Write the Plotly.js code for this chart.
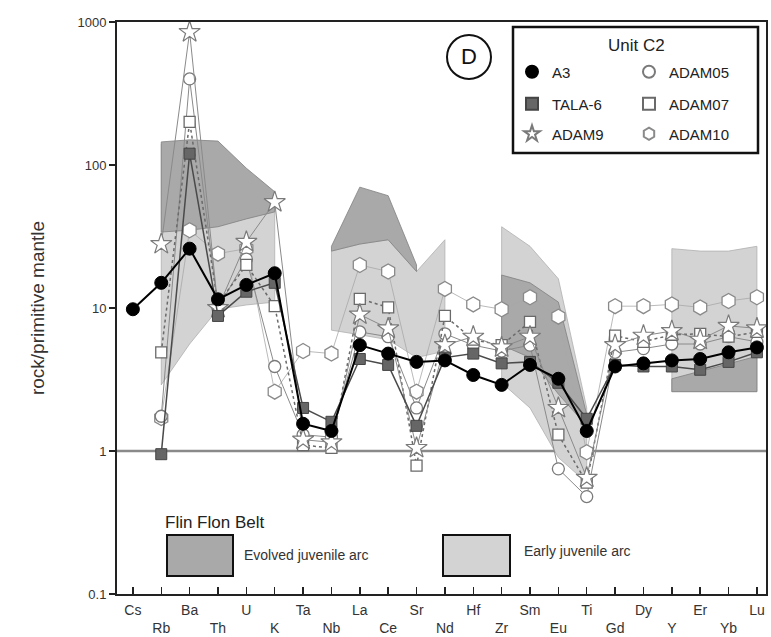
<!DOCTYPE html>
<html>
<head>
<meta charset="utf-8">
<script src="https://cdn.plot.ly/plotly-3.0.1.min.js"></script>
<style>html,body{margin:0;padding:0;background:#fff;}#chart{width:771px;height:637px;}</style>
</head>
<body>
<div id="chart"></div>
<script>
// ---- Data ----
const elements = ['Cs','Rb','Ba','Th','U','K','Ta','Nb','La','Ce','Sr','Nd','Hf','Zr','Sm','Eu','Ti','Gd','Dy','Y','Er','Yb','Lu'];

const A3     = [9.8, 15, 26, 11.5, 14.5, 17.5, 1.55, 1.38, 5.5, 4.8, 4.2, 4.3, 3.4, 2.9, 4.0, 3.2, 1.38, 3.9, 4.1, 4.3, 4.4, 4.9, 5.3];
const TALA6  = [null, 0.95, 120, 8.8, 13, 15, 2.0, 1.6, 4.4, 4.0, 1.5, 4.5, 4.8, 4.1, 4.2, 3.0, 1.68, 4.0, 3.9, 3.9, 3.7, 4.2, 4.9];
const ADAM9  = [null, 28, 850, 10, 29, 55, 1.2, 1.15, 9, 7.2, 1.05, 5.5, 6.3, 5.3, 6.3, 2.0, 0.65, 5.5, 6.4, 6.9, 6.0, 7.5, 7.2];
const ADAM05 = [null, 1.75, 400, 10, 22, 3.9, 1.3, 1.25, 6.8, 6.3, 2.0, 6.6, 5.5, 5.0, 5.5, 0.75, 0.48, 4.9, 5.2, 5.6, 5.6, 6.3, 5.8];
const ADAM07 = [null, 4.9, 200, 10.7, 20, 10.3, 1.1, 1.05, 11.6, 10.1, 0.79, 8.8, 6.0, 5.5, 8.0, 1.3, 0.6, 6.4, 5.8, 6.5, 6.6, 6.3, 6.8];
const ADAM10 = [null, 1.7, 35, 24, 26, 2.6, 5.0, 4.8, 20, 18, 2.6, 13.6, 10.6, 9.8, 11.9, 8.7, 0.98, 10.3, 10.3, 10.6, 10.1, 11.2, 11.9];

// Flin Flon Belt fields (upper / lower envelopes per element)
const evolvedEls1 = ['Rb','Ba','Th','U','K'];
const evolvedTop1 = [145, 150, 147, 95, 65];
const evolvedBot1 = [34, 35, 37, 42, 47];
const earlyEls1   = ['Rb','Ba','Th','U','K'];
const earlyTop1   = [140, 140, 140, 90, 62];
const earlyBot1   = [2.9, 5.6, 9.8, 10.5, 11];

const evolvedEls2 = ['Nb','La','Ce','Sr'];
const evolvedTop2 = [27, 70, 61, 20];
const evolvedBot2 = [25, 28, 30, 18];
const earlyEls2   = ['Nb','La','Ce','Sr','Nd'];
const earlyTop2   = [25, 28, 30, 18, 30];
const earlyBot2   = [7.0, 6.5, 6.0, 4.5, 5.0];

const evolvedEls3 = ['Zr','Sm','Eu','Ti'];
const evolvedTop3 = [17, 15, 11, 1.8];
const evolvedBot3 = [5.5, 4.5, 2.5, 1.5];
const earlyEls3   = ['Zr','Sm','Eu','Ti'];
const earlyTop3   = [37, 27, 16, 2.0];
const earlyBot3   = [3.0, 2.0, 0.9, 0.6];

const evolvedEls4 = ['Y','Er','Yb','Lu'];
const evolvedTop4 = [3.2, 3.6, 4.1, 4.6];
const evolvedBot4 = [2.6, 2.6, 2.6, 2.6];
const earlyEls4   = ['Y','Er','Yb','Lu'];
const earlyTop4   = [26, 25, 25, 27];
const earlyBot4   = [2.6, 2.6, 2.6, 2.6];

const yRange = [0.1, 1000];
const yTickVals = [0.1, 1, 10, 100, 1000];
const yTickText = ['0.1', '1', '10', '100', '1000'];
const refLevel = 1;

// ---- Styling ----
const EVOLVED = '#a9a9a9';
const EARLY = '#d3d3d3';
const FONT = 'Arial, "Liberation Sans", sans-serif';

function field(els, top, bot, fill, edge) {
  return {
    x: els.concat(els.slice().reverse(), [els[0]]),
    y: top.concat(bot.slice().reverse(), [top[0]]),
    type: 'scatter', mode: 'lines', fill: 'toself', fillcolor: fill,
    line: {color: edge, width: 0.8}, hoverinfo: 'skip', showlegend: false
  };
}

const traces = [
  field(earlyEls1, earlyTop1, earlyBot1, EARLY, '#b0b0b0'),
  field(earlyEls2, earlyTop2, earlyBot2, EARLY, '#b0b0b0'),
  field(earlyEls3, earlyTop3, earlyBot3, EARLY, '#b0b0b0'),
  field(earlyEls4, earlyTop4, earlyBot4, EARLY, '#b0b0b0'),
  field(evolvedEls1, evolvedTop1, evolvedBot1, EVOLVED, '#808080'),
  field(evolvedEls2, evolvedTop2, evolvedBot2, EVOLVED, '#808080'),
  field(evolvedEls3, evolvedTop3, evolvedBot3, EVOLVED, '#808080'),
  field(evolvedEls4, evolvedTop4, evolvedBot4, EVOLVED, '#808080'),
];

function series(name, vals, marker, line, legend, rank) {
  traces.push({
    x: elements, y: vals, type: 'scatter', mode: 'lines', connectgaps: false,
    line: line, showlegend: false, hoverinfo: 'skip'
  });
  traces.push({
    x: elements, y: vals, name: name, type: 'scatter', mode: 'markers',
    marker: marker, legend: legend, legendrank: rank
  });
}

series('ADAM10', ADAM10, {symbol: 'hexagon', size: 15, color: '#ffffff', line: {color: '#8a8a8a', width: 1.3}}, {color: '#a8a8a8', width: 0.8}, 'legend3', 2);
series('ADAM05', ADAM05, {symbol: 'circle', size: 12, color: '#ffffff', line: {color: '#7a7a7a', width: 1.3}}, {color: '#8a8a8a', width: 1}, 'legend', 2);
series('ADAM07', ADAM07, {symbol: 'square', size: 11, color: '#ffffff', line: {color: '#6a6a6a', width: 1.3}}, {color: '#6a6a6a', width: 1.5, dash: 'dot'}, 'legend2', 2);
series('ADAM9', ADAM9, {symbol: 'star', size: 16, color: '#ffffff', line: {color: '#7a7a7a', width: 1.2}}, {color: '#8a8a8a', width: 1}, 'legend3', 1);
series('TALA-6', TALA6, {symbol: 'square', size: 11, color: '#666666', line: {color: '#444444', width: 1}}, {color: '#4a4a4a', width: 1.5}, 'legend2', 1);
series('A3', A3, {symbol: 'circle', size: 13, color: '#000000', line: {color: '#000', width: 1}}, {color: '#000000', width: 2}, 'legend', 1);

// paper-coordinate helpers (plot area: x 117..766, y 22..594)
const L = 117, R = 766, T = 22, B = 594;
const px = x => (x - L) / (R - L);
const py = y => (B - y) / (B - T);
const logFrac = v => (Math.log10(v) - Math.log10(yRange[0])) / (Math.log10(yRange[1]) - Math.log10(yRange[0]));

const legendBase = {
  orientation: 'h', entrywidth: 72, entrywidthmode: 'pixels',
  xanchor: 'left', yanchor: 'middle', x: px(512),
  bgcolor: 'rgba(0,0,0,0)', borderwidth: 0,
  font: {family: FONT, size: 15, color: '#222'},
  traceorder: 'normal', itemsizing: 'constant'
};

const layout = {
  width: 771, height: 637,
  margin: {l: L, r: 771 - R, t: T, b: 637 - B},
  paper_bgcolor: '#fff', plot_bgcolor: '#fff',
  font: {family: FONT, color: '#333'},
  showlegend: true,
  legend:  Object.assign({}, legendBase, {y: py(72)}),
  legend2: Object.assign({}, legendBase, {y: py(104)}),
  legend3: Object.assign({}, legendBase, {y: py(134)}),
  xaxis: {
    type: 'category', categoryorder: 'array', categoryarray: elements,
    range: [-0.56, 22.32],
    tickmode: 'array', tickvals: elements,
    ticktext: elements.map((e, i) => i % 2 === 0 ? e : '<br>' + e),
    ticks: 'inside', ticklen: 7, tickwidth: 1.5, tickcolor: '#222',
    showline: true, linecolor: '#222', linewidth: 2, mirror: true,
    showgrid: false, zeroline: false,
    tickfont: {family: FONT, size: 14, color: '#333'},
    ticklabelstandoff: 2
  },
  yaxis: {
    type: 'log', range: [Math.log10(yRange[0]), Math.log10(yRange[1])],
    tickmode: 'array', tickvals: yTickVals, ticktext: yTickText,
    ticks: 'outside', ticklen: 6, tickwidth: 1.5, tickcolor: '#222',
    showline: true, linecolor: '#222', linewidth: 2, mirror: true,
    showgrid: false, zeroline: false,
    tickfont: {family: FONT, size: 13, color: '#333'},
    title: {text: 'rock/primitive mantle', font: {family: FONT, size: 19, color: '#333'}, standoff: 28}
  },
  shapes: [
    {type: 'line', xref: 'paper', x0: 0, x1: 1, yref: 'paper', y0: logFrac(refLevel), y1: logFrac(refLevel), line: {color: '#8a8a8a', width: 2.5}, layer: 'below'},
    {type: 'rect', xref: 'paper', yref: 'paper', x0: px(513), x1: px(758), y0: py(153), y1: py(27), line: {color: '#111', width: 2.5}},
    {type: 'circle', xref: 'paper', yref: 'paper', x0: px(447), x1: px(491), y0: py(79), y1: py(35), line: {color: '#111', width: 2}},
    {type: 'rect', xref: 'paper', yref: 'paper', x0: px(167), x1: px(233), y0: py(576), y1: py(535), fillcolor: EVOLVED, line: {color: '#111', width: 2}},
    {type: 'rect', xref: 'paper', yref: 'paper', x0: px(443), x1: px(510), y0: py(576), y1: py(535), fillcolor: EARLY, line: {color: '#111', width: 2}}
  ],
  annotations: [
    {text: 'Unit C2', xref: 'paper', yref: 'paper', x: px(636), y: py(45), xanchor: 'center', yanchor: 'middle', showarrow: false, font: {family: FONT, size: 17, color: '#222'}},
    {text: 'D', xref: 'paper', yref: 'paper', x: px(469), y: py(57), xanchor: 'center', yanchor: 'middle', showarrow: false, font: {family: FONT, size: 22, color: '#111'}},
    {text: 'Flin Flon Belt', xref: 'paper', yref: 'paper', x: px(163), y: py(522), xanchor: 'left', yanchor: 'middle', showarrow: false, font: {family: FONT, size: 17, color: '#222'}},
    {text: 'Evolved juvenile arc', xref: 'paper', yref: 'paper', x: px(242), y: py(555), xanchor: 'left', yanchor: 'middle', showarrow: false, font: {family: FONT, size: 14, color: '#333'}},
    {text: 'Early juvenile arc', xref: 'paper', yref: 'paper', x: px(522), y: py(551), xanchor: 'left', yanchor: 'middle', showarrow: false, font: {family: FONT, size: 14, color: '#333'}}
  ]
};

Plotly.newPlot('chart', traces, layout, {displayModeBar: false, staticPlot: true});
</script>
</body>
</html>
